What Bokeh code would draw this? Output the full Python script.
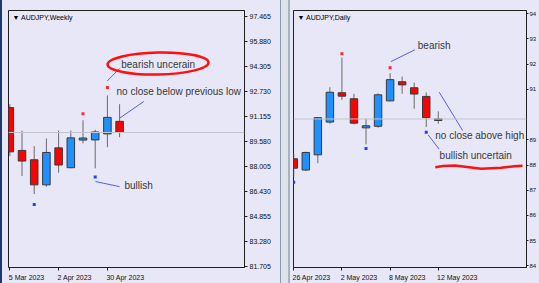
from bokeh.plotting import figure
from bokeh.models import (FixedTicker, NumeralTickFormatter, Span, Label, Range1d, Div,
                          ColumnDataSource)
from bokeh.layouts import row
from bokeh.embed import file_html
from bokeh.resources import INLINE

# ---------------- data: AUDJPY weekly ----------------
w_dates = ["5 Mar 2023", "12 Mar 2023", "19 Mar 2023", "26 Mar 2023", "2 Apr 2023",
           "9 Apr 2023", "16 Apr 2023", "23 Apr 2023", "30 Apr 2023", "7 May 2023"]
w_open = [91.70, 89.00, 88.41, 86.83, 89.16, 87.91, 89.65, 89.66, 90.04, 90.83]
w_high = [91.91, 90.25, 89.27, 89.75, 90.25, 90.25, 90.90, 90.30, 92.46, 91.91]
w_low = [88.64, 87.39, 86.25, 86.71, 87.60, 87.87, 89.44, 87.87, 89.20, 89.83]
w_close = [88.91, 88.33, 86.83, 88.87, 88.08, 89.79, 89.78, 90.16, 91.08, 90.13]
w_up_dot_bar = [6, 8]
w_up_dot = [91.31, 92.97]
w_dn_dot_bar = [2, 7]
w_dn_dot = [85.60, 87.33]
w_tick_bars = [0, 4, 8]
w_tick_labels = ["5 Mar 2023", "2 Apr 2023", "30 Apr 2023"]
w_price_ticks = [97.465, 95.880, 94.305, 92.730, 91.155, 89.580, 88.005, 86.430,
                 84.855, 83.280, 81.705]

# ---------------- data: AUDJPY daily ----------------
d_dates = ["26 Apr 2023", "27 Apr 2023", "28 Apr 2023", "1 May 2023", "2 May 2023",
           "3 May 2023", "4 May 2023", "5 May 2023", "8 May 2023", "9 May 2023",
           "10 May 2023", "11 May 2023", "12 May 2023"]
d_open = [88.61, 88.18, 88.76, 90.01, 91.13, 90.90, 89.79, 89.85, 90.82, 91.55, 91.32, 90.99, 90.07]
d_high = [88.80, 88.88, 90.20, 91.34, 92.47, 91.09, 90.14, 91.11, 91.88, 91.75, 91.52, 91.14, 90.42]
d_low = [87.91, 88.14, 88.44, 89.95, 90.86, 89.92, 89.16, 89.79, 90.80, 91.09, 90.52, 89.82, 89.95]
d_close = [88.25, 88.85, 90.18, 91.15, 91.00, 89.97, 89.87, 91.05, 91.63, 91.43, 91.08, 90.18, 90.13]
d_up_dot_bar = [4, 8]
d_up_dot = [92.62, 92.08]
d_dn_dot_bar = [0, 6, 11]
d_dn_dot = [87.71, 89.00, 89.625]
d_tick_bars = [0, 4, 8, 12]
d_tick_labels = ["26 Apr 2023", "2 May 2023", "8 May 2023", "12 May 2023"]
# the daily window's price scale is cut by the screen edge: only the leading digits show
d_price_ticks = [94.144, 93.182, 92.220, 91.258, 89.334, 88.372, 87.410, 86.448,
                 85.486, 84.524]
d_price_labels = ["94", "93", "92", "91", "89", "88", "87", "86", "85", "84"]

last_price = 90.129

# annotations (bar index, price)
w_notes = [("bearish uncerain", 9.13, 94.41), ("no close below previous low", 8.75, 92.705),
           ("bullish", 9.40, 86.81)]
w_lines_x0 = [7.98, 9.02, 7.02]
w_lines_y0 = [93.37, 91.04, 87.04]
w_lines_x1 = [9.00, 10.98, 9.00]
w_lines_y1 = [94.16, 92.08, 86.72]
w_circle = (12.15, 94.47)

d_notes = [("bearish", 10.30, 92.93), ("no close above high", 11.75, 89.50),
           ("bullish uncertain", 12.11, 88.74)]
d_lines_x0 = [8.07, 12.08, 11.16]
d_lines_y0 = [92.32, 91.15, 89.52]
d_lines_x1 = [10.06, 14.02, 12.07]
d_lines_y1 = [92.77, 89.69, 88.98]
d_wave_x = [11.75, 12.4, 13.39, 15.57, 17.21, 18.31, 18.99]
d_wave_y = [88.29, 88.33, 88.354, 88.228, 88.266, 88.327, 88.343]

BG = "#e7e7f7"
BULL = "#1e90ff"
BEAR = "#ff0000"
FONT = "Liberation Sans"

AW = {' ': 278, 'A': 667, 'M': 833, 'a': 556, 'p': 556, 'r': 333, 'y': 500}


def text_w(s, size):
    return sum(AW.get(c, 556) for c in s) * size / 1000.0


def make_chart(width, top, left, right, x_start, frame_w, bar_px, y_start, px_per_unit,
               o, h, l, c, up_b, up_v, dn_b, dn_v, tick_bars, tick_labels, price_ticks,
               price_labels, title, tag_text, ysize, ytick, ystand):
    frame_h = 283 - top - 16
    x_end = x_start + frame_w / bar_px
    y_end = y_start + frame_h / px_per_unit
    p = figure(width=width, height=283, x_range=Range1d(x_start, x_end),
               y_range=Range1d(y_start, y_end), output_backend="svg",
               toolbar_location=None, y_axis_location="right",
               min_border_left=left, min_border_right=right, min_border_top=top,
               min_border_bottom=16)
    p.background_fill_color = BG
    p.border_fill_color = BG
    p.outline_line_color = "#202020"
    p.xgrid.visible = False
    p.ygrid.visible = False

    # x axis: tick marks at bars (minor), labels to the right of the tick (major, no mark)
    centers = [round(b + (text_w(s, 7) / 2 - 1) / bar_px, 4) for b, s in zip(tick_bars, tick_labels)]
    xa = p.xaxis[0]
    xa.ticker = FixedTicker(ticks=centers, minor_ticks=tick_bars)
    xa.major_label_overrides = {cc: s for cc, s in zip(centers, tick_labels)}
    xa.major_tick_out = 0
    xa.major_tick_in = 0
    xa.minor_tick_out = 3
    xa.minor_tick_in = 0
    xa.minor_tick_line_color = "#202020"
    xa.axis_line_color = "#202020"
    xa.major_label_standoff = 3
    xa.major_label_text_font = FONT
    xa.major_label_text_font_size = "7px"
    xa.major_label_text_color = "#101010"

    ya = p.yaxis[0]
    ya.ticker = FixedTicker(ticks=price_ticks)
    if price_labels is None:
        ya.formatter = NumeralTickFormatter(format="0.000")
    else:
        ya.major_label_overrides = {v: s for v, s in zip(price_ticks, price_labels)}
    ya.major_tick_out = ytick
    ya.major_tick_in = 0
    ya.minor_tick_out = 0
    ya.minor_tick_in = 0
    ya.major_tick_line_color = "#202020"
    ya.axis_line_color = "#202020"
    ya.major_label_standoff = ystand
    ya.major_label_text_font = FONT
    ya.major_label_text_font_size = ysize
    ya.major_label_text_color = "#101010"

    # current price line
    p.add_layout(Span(location=last_price, dimension="width", line_color="#c4c4cc", line_width=1))

    n = len(o)
    xs = list(range(n))
    src = ColumnDataSource(dict(
        x=xs, low=l, high=h,
        top=[max(a, b) for a, b in zip(o, c)],
        bottom=[min(a, b) for a, b in zip(o, c)],
        color=[BULL if cc >= oo else BEAR for oo, cc in zip(o, c)],
    ))
    p.segment(x0="x", y0="low", x1="x", y1="high", source=src, line_color="#6a6a6a", line_width=1)
    p.vbar(x="x", top="top", bottom="bottom", width=0.62, source=src,
           fill_color="color", line_color="#3a3a3a", line_width=1)

    p.scatter(x=up_b, y=up_v, marker="square", size=3, fill_color="#ff2a2a", line_color=None)
    p.scatter(x=dn_b, y=dn_v, marker="square", size=3, fill_color="#2a3cff", line_color=None)

    # title label of the chart window
    p.add_layout(Label(x=x_start, y=y_end, x_offset=4, y_offset=-7, text="\u25bc " + title,
                       text_font=FONT, text_font_size="7px", text_color="#000000",
                       text_align="left", text_baseline="middle"))

    # price tag on the axis
    p.add_layout(Label(x=x_end, y=last_price, x_offset=2, y_offset=0, text=tag_text,
                       text_font=FONT, text_font_size=ysize, text_color="#ffffff",
                       text_align="left", text_baseline="middle",
                       background_fill_color="#000000", padding=1))
    return p


left = make_chart(278, 8, 6, 36, -0.107, 236, 12.2, 81.625, 16.0,
                  w_open, w_high, w_low, w_close, w_up_dot_bar, w_up_dot, w_dn_dot_bar, w_dn_dot,
                  w_tick_bars, w_tick_labels, w_price_ticks, None, "AUDJPY,Weekly",
                  "90.129", "7px", 3, 2)
right = make_chart(249, 10, 3, 10, -0.02, 236, 12.2, 84.46, 26.2,
                   d_open, d_high, d_low, d_close, d_up_dot_bar, d_up_dot, d_dn_dot_bar, d_dn_dot,
                   d_tick_bars, d_tick_labels, d_price_ticks, d_price_labels, "AUDJPY,Daily",
                   "90", "6px", 2, 1)

LINE_BLUE = "#5a5af5"
TEXT = "#383838"

for p, notes, x0, y0, x1, y1 in [(left, w_notes, w_lines_x0, w_lines_y0, w_lines_x1, w_lines_y1),
                                 (right, d_notes, d_lines_x0, d_lines_y0, d_lines_x1, d_lines_y1)]:
    p.segment(x0=x0, y0=y0, x1=x1, y1=y1, line_color=LINE_BLUE, line_width=1)
    for txt, tx, ty in notes:
        p.add_layout(Label(x=tx, y=ty, text=txt, text_font=FONT, text_font_size="10px",
                           text_color=TEXT, text_align="left", text_baseline="middle"))

left.ellipse(x=[w_circle[0]], y=[w_circle[1]], width=101, height=22, width_units="screen",
             height_units="screen", angle=0.02, fill_color=None, line_color="#ff1010", line_width=2.5)
right.line(x=d_wave_x, y=d_wave_y, line_color="#ff1010", line_width=2.5)

edge = Div(text="", width=2, height=283, margin=0, styles={"background-color": "#1d3c6a"})
gap = Div(text="", width=10, height=283, margin=0,
          styles={"background-color": "#dfe4ec", "border-left": "1px solid #8e99a8",
                  "border-right": "2px solid #a9b2bf", "box-sizing": "border-box"})

layout = row(edge, left, gap, right, width=539, height=283, sizing_mode="fixed",
             styles={"overflow": "hidden", "background-color": BG})

open("out.html", "w").write(file_html(layout, INLINE))
